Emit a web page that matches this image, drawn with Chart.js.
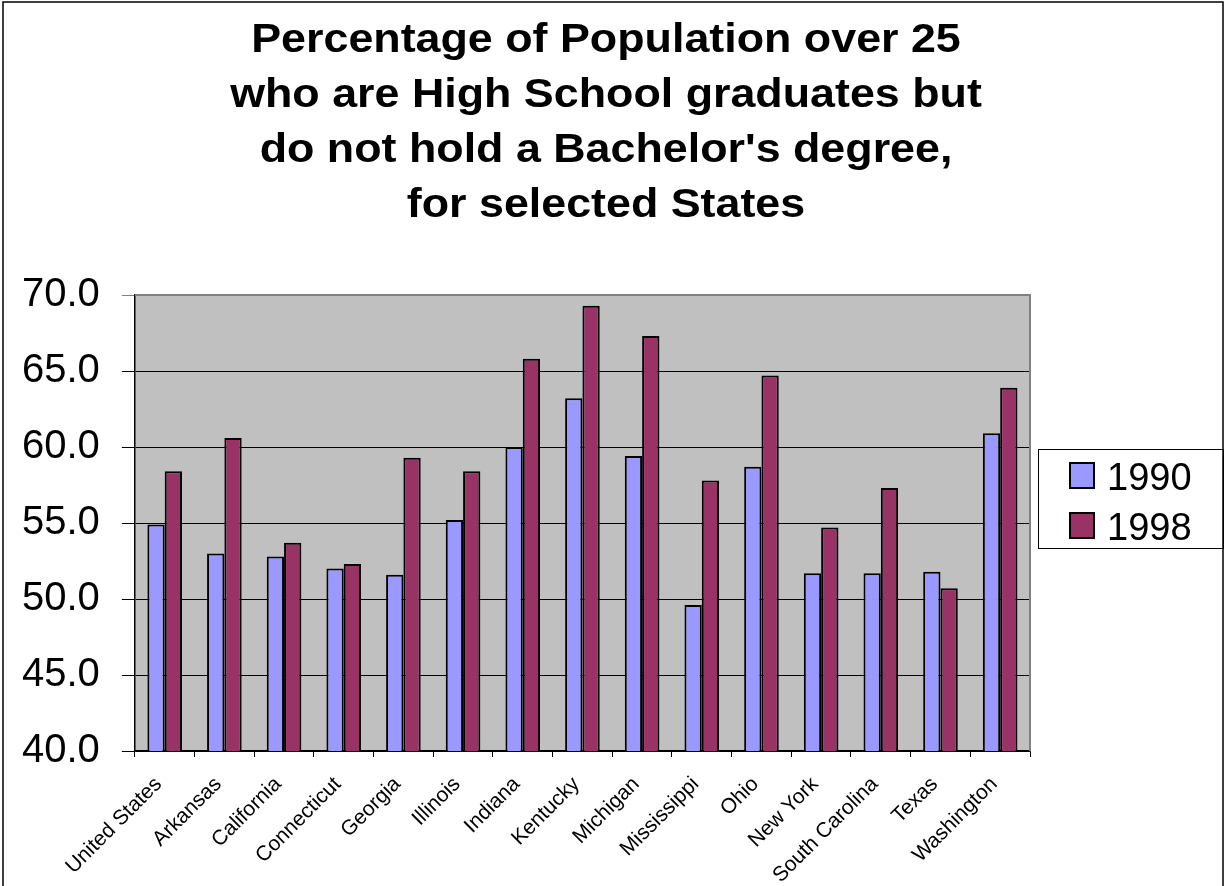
<!DOCTYPE html>
<html>
<head>
<meta charset="utf-8">
<title>High School graduates by State</title>
<script src="https://cdn.jsdelivr.net/npm/chart.js@4/dist/chart.umd.min.js"></script>
<style>
  html, body { margin: 0; padding: 0; background: #fff; }
  canvas { display: block; }
</style>
</head>
<body>
<canvas id="grafico" width="1225" height="886"></canvas>
<script>
// Estados e valores (%)
const estados = ['United States', 'Arkansas', 'California', 'Connecticut', 'Georgia', 'Illinois',
  'Indiana', 'Kentucky', 'Michigan', 'Mississippi', 'Ohio', 'New York', 'South Carolina', 'Texas', 'Washington'];
const valores1990 = [54.9, 53.0, 52.8, 52.0, 51.6, 55.2, 60.0, 63.2, 59.4, 49.6, 58.7, 51.7, 51.7, 51.8, 60.9];
const valores1998 = [58.4, 60.6, 53.7, 52.3, 59.3, 58.4, 65.8, 69.3, 67.3, 57.8, 64.7, 54.7, 57.3, 50.7, 63.9];
const anos = ['1990', '1998'];
const titulo = ['Percentage of Population over 25', 'who are High School graduates but',
  "do not hold a Bachelor's degree,", 'for selected States'];

const fonte = '"Liberation Sans", Arial, sans-serif';

// Fundo cinzento da área do gráfico + moldura exterior
const fundoPlugin = {
  id: 'fundo',
  beforeDraw(chart) {
    const { ctx, chartArea: a } = chart;
    ctx.save();
    ctx.fillStyle = '#c0c0c0';
    ctx.fillRect(a.left, a.top, a.right - a.left, a.bottom - a.top);
    ctx.restore();
  },
  afterDraw(chart) {
    const { ctx, chartArea: a } = chart;
    ctx.save();
    // borda cinzenta em cima e à direita
    ctx.strokeStyle = '#808080';
    ctx.lineWidth = 2;
    ctx.beginPath();
    ctx.moveTo(a.left, a.top);
    ctx.lineTo(a.right, a.top);
    ctx.lineTo(a.right, a.bottom);
    ctx.stroke();
    // moldura de todo o gráfico
    ctx.strokeStyle = '#000';
    ctx.lineWidth = 1.5;
    ctx.strokeRect(3, 2, 1220, 900);
    ctx.restore();
  }
};

// Título em 4 linhas, letra um pouco esticada na horizontal
const tituloPlugin = {
  id: 'tituloLargo',
  afterDraw(chart) {
    const ctx = chart.ctx;
    ctx.save();
    ctx.fillStyle = '#000';
    ctx.font = 'bold 40px ' + fonte;
    ctx.textAlign = 'center';
    ctx.textBaseline = 'alphabetic';
    titulo.forEach(function(linha, i) {
      ctx.save();
      ctx.translate(606, 52 + i * 55);
      ctx.scale(1.12, 1);
      ctx.fillText(linha, 0, 0);
      ctx.restore();
    });
    ctx.restore();
  }
};

// Legenda com caixa, à direita
const legendaPlugin = {
  id: 'legendaCaixa',
  afterDraw(chart) {
    const ctx = chart.ctx;
    ctx.save();
    ctx.strokeStyle = '#000';
    ctx.lineWidth = 1;
    ctx.strokeRect(1038.5, 449.5, 185, 99);
    ctx.font = '38px ' + fonte;
    ctx.textBaseline = 'alphabetic';
    chart.data.datasets.forEach(function(ds, i) {
      const y = 463 + i * 50;
      ctx.fillStyle = ds.backgroundColor;
      ctx.fillRect(1070, y, 24, 25);
      ctx.lineWidth = 2;
      ctx.strokeRect(1070, y, 24, 25);
      ctx.fillStyle = '#000';
      ctx.fillText(ds.label, 1107, y + 27);
    });
    ctx.restore();
  }
};

new Chart(document.getElementById('grafico'), {
  type: 'bar',
  data: {
    labels: estados,
    datasets: [{
      label: anos[0],
      data: valores1990,
      backgroundColor: '#9999ff',
      borderColor: '#000',
      borderWidth: 2,
      borderSkipped: false
    }, {
      label: anos[1],
      data: valores1998,
      backgroundColor: '#993366',
      borderColor: '#000',
      borderWidth: 2,
      borderSkipped: false
    }]
  },
  options: {
    responsive: false,
    animation: false,
    layout: { padding: { left: 0, right: 195, top: 295, bottom: 0 } },
    datasets: { bar: { categoryPercentage: 0.58, barPercentage: 1.0 } },
    plugins: {
      legend: { display: false },
      tooltip: { enabled: false },
      title: { display: false }
    },
    scales: {
      x: {
        grid: { drawOnChartArea: false, offset: true, tickLength: 6, color: '#000', lineWidth: 1 },
        border: { color: '#000', width: 1.5 },
        ticks: {
          color: '#000',
          font: { family: fonte, size: 21 },
          minRotation: 45,
          maxRotation: 45,
          autoSkip: false,
          padding: 15,
          labelOffset: -6
        },
        afterFit: function(escala) {
          // altura fixa do eixo e sem folga lateral para o primeiro rótulo
          escala.height = 135;
          escala.paddingLeft = 0;
          escala.paddingRight = 0;
        }
      },
      y: {
        min: 40,
        max: 70,
        grid: {
          color: function(c) { return c.tick && c.tick.value === 70 ? '#808080' : '#000'; },
          lineWidth: 1,
          tickLength: 13
        },
        border: { color: '#000', width: 1.5 },
        ticks: {
          stepSize: 5,
          color: '#000',
          padding: 22,
          font: { family: fonte, size: 40 },
          callback: function(v) { return v.toFixed(1); }
        }
      }
    }
  },
  plugins: [fundoPlugin, tituloPlugin, legendaPlugin]
});
</script>
</body>
</html>
